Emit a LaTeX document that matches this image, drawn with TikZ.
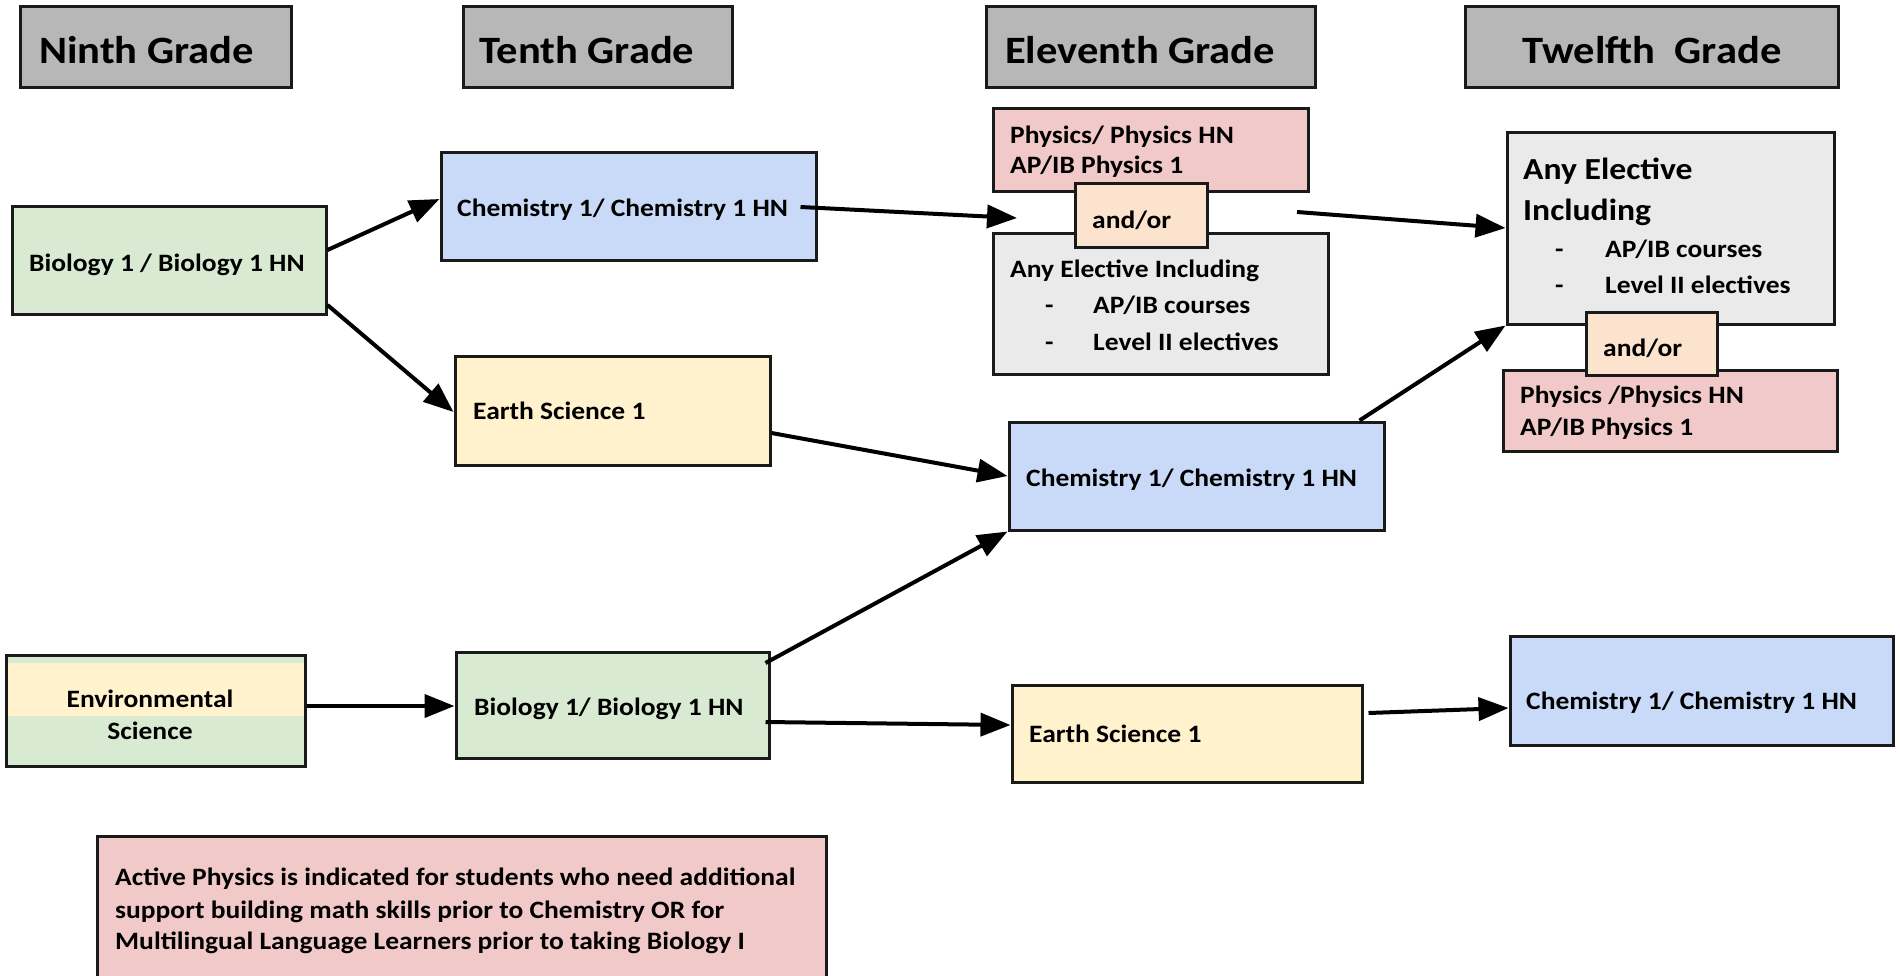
\documentclass[tikz,border=0pt]{standalone}
\usepackage{fontspec}
\setmainfont{Carlito}[FakeStretch=1.1]
\usetikzlibrary{fit,arrows.meta}
\definecolor{chdr}{HTML}{B7B7B7}
\definecolor{cgreen}{HTML}{D9EAD3}
\definecolor{cblue}{HTML}{C9DAF8}
\definecolor{cyellow}{HTML}{FFF2CC}
\definecolor{cpink}{HTML}{F2C9C9}
\definecolor{corange}{HTML}{FCE3CD}
\definecolor{cgray}{HTML}{EAEAEA}
\definecolor{cline}{HTML}{1A1A1A}
\begin{document}
\begin{tikzpicture}[x=1pt,y=-1pt,
  box/.style={draw=cline, line width=3pt, inner sep=0pt, rectangle},
  txt/.style={anchor=base west, inner sep=0pt, font=\bfseries\fontsize{25}{30}\selectfont},
  bigtxt/.style={txt, font=\bfseries\fontsize{30.6}{36}\selectfont},
  hdrtxt/.style={txt, font=\bfseries\fontsize{38.7}{46}\selectfont},
  arr/.style={draw=black, line width=4pt, -{Triangle[length=30pt,width=23pt]}},
]
\useasboundingbox (0,0) rectangle (1900,975);
\clip (0,0) rectangle (1900,975);

% headers
\node[box, fill=chdr, fit={(20,6) (291,87)}] (h9) {};
\node[box, fill=chdr, fit={(463,6) (732,87)}] (h10) {};
\node[box, fill=chdr, fit={(986,6) (1315,87)}] (h11) {};
\node[box, fill=chdr, fit={(1465,6) (1838,87)}] (h12) {};
\node[hdrtxt] (h9t) at (39,63) {Ninth Grade};
\node[hdrtxt] (h10t) at (479,63) {Tenth Grade};
\node[hdrtxt] (h11t) at (1005,63) {Eleventh Grade};
\node[hdrtxt, anchor=base] (h12t) at (1652,63) {Twelfth\ \ Grade};

% ninth grade
\node[box, fill=cgreen, fit={(12,206) (326,314)}] (bio9) {};
\node[txt] (bio9t) at (29,271) {Biology 1 / Biology 1 HN};
\fill[cgreen] (6,655) rectangle (305,766);
\fill[cyellow] (6,663) rectangle (305,716);
\node[box, fit={(6,655) (305,766)}] (env9) {};
\node[txt, anchor=base] (env9a) at (150,707) {Environmental};
\node[txt, anchor=base] (env9b) at (150,739) {Science};

% tenth grade
\node[box, fill=cblue, fit={(441,152) (816,260)}] (chem10) {};
\node[txt] (chem10t) at (457,216) {Chemistry 1/ Chemistry 1 HN};
\node[box, fill=cyellow, fit={(455,356) (770,465)}] (earth10) {};
\node[txt] (earth10t) at (473,419) {Earth Science 1};
\node[box, fill=cgreen, fit={(456,652) (769,758)}] (bio10) {};
\node[txt] (bio10t) at (474,715) {Biology 1/ Biology 1 HN};

% eleventh grade
\node[box, fill=cpink, fit={(993,108) (1308,191)}] (phys11) {};
\node[txt] (phys11a) at (1010,143) {Physics/ Physics HN};
\node[txt] (phys11b) at (1010,173) {AP/IB Physics 1};
\node[box, fill=cgray, fit={(993,233) (1328,374)}] (elec11) {};
\node[txt] (elec11a) at (1010,277) {Any Elective Including};
\node[txt] (elec11b) at (1045,313) {-};
\node[txt] (elec11c) at (1093,313) {AP/IB courses};
\node[txt] (elec11d) at (1045,350) {-};
\node[txt] (elec11e) at (1093,350) {Level II electives};
\node[box, fill=corange, fit={(1075,183) (1207,247)}] (andor11) {};
\node[txt] (andor11t) at (1092,228) {and/or};
\node[box, fill=cblue, fit={(1009,422) (1384,530)}] (chem11) {};
\node[txt] (chem11t) at (1026,486) {Chemistry 1/ Chemistry 1 HN};
\node[box, fill=cyellow, fit={(1012,685) (1362,782)}] (earth11) {};
\node[txt] (earth11t) at (1029,742) {Earth Science 1};

% twelfth grade
\node[box, fill=cgray, fit={(1507,132) (1834,324)}] (elec12) {};
\node[bigtxt] (elec12a) at (1523,179) {Any Elective};
\node[bigtxt] (elec12b) at (1523,220) {Including};
\node[txt] (elec12c) at (1555,257) {-};
\node[txt] (elec12d) at (1605,257) {AP/IB courses};
\node[txt] (elec12e) at (1555,293) {-};
\node[txt] (elec12f) at (1605,293) {Level II electives};
\node[box, fill=cpink, fit={(1503,370) (1837,451)}] (phys12) {};
\node[txt] (phys12a) at (1520,403) {Physics /Physics HN};
\node[txt] (phys12b) at (1520,435) {AP/IB Physics 1};
\node[box, fill=corange, fit={(1586,312) (1717,375)}] (andor12) {};
\node[txt] (andor12t) at (1603,356) {and/or};
\node[box, fill=cblue, fit={(1510,636) (1893,745)}] (chem12) {};
\node[txt] (chem12t) at (1526,709) {Chemistry 1/ Chemistry 1 HN};

% note
\node[box, fill=cpink, fit={(97,836) (826,990)}] (note) {};
\node[txt] (note1) at (115,885) {Active Physics is indicated for students who need additional};
\node[txt] (note2) at (115,918) {support building math skills prior to Chemistry OR for};
\node[txt] (note3) at (115,949) {Multilingual Language Learners prior to taking Biology I};

% free ends
\coordinate (e11in) at (1017,218);
\coordinate (e11out) at (1297,212);

% connectors
\draw[arr] ([yshift=10pt]bio9.east) -- ([yshift=7pt]chem10.west);
\draw[arr] ([yshift=-45pt]bio9.east) -- ([yshift=-1.5pt]earth10.west);
\draw[arr] ([xshift=-17pt,yshift=-1pt]chem10.east) -- (e11in);
\draw[arr] (e11out) -- (elec12.west);
\draw[arr] ([yshift=-22.5pt]earth10.east) -- (chem11.west);
\draw[arr] ([xshift=-26pt]chem11.north east) -- (elec12.south west);
\draw[arr] ([xshift=-5pt,yshift=42pt]bio10.east) -- (chem11.south west);
\draw[arr] ([yshift=4.5pt]env9.east) -- ([yshift=-1pt]bio10.west);
\draw[arr] ([xshift=-5pt,yshift=-17pt]bio10.east) -- ([yshift=8.5pt]earth11.west);
\draw[arr] ([xshift=5pt,yshift=20.5pt]earth11.east) -- ([yshift=-17.5pt]chem12.west);
\end{tikzpicture}
\end{document}
